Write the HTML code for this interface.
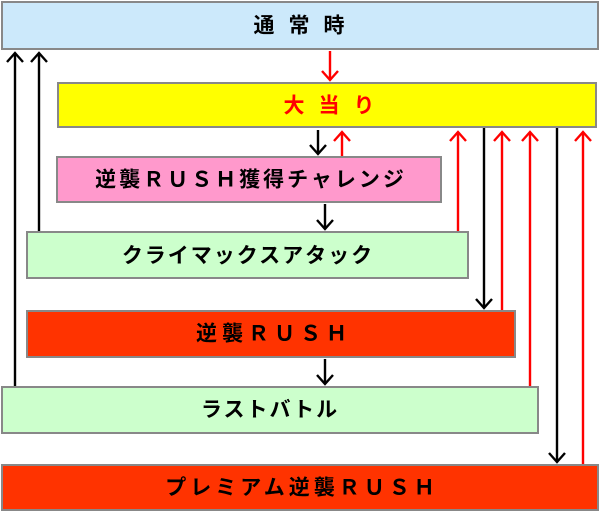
<!DOCTYPE html>
<html><head><meta charset="utf-8"><style>body{margin:0;background:#fff}svg{display:block}
text{font-family:"Liberation Sans","Noto Sans CJK JP",sans-serif;font-weight:bold;font-size:21px;text-anchor:middle;dominant-baseline:central}</style></head>
<body>
<svg width="600" height="514" viewBox="0 0 600 514" xmlns="http://www.w3.org/2000/svg">
<g stroke="#888" stroke-width="2">
<rect x="2" y="2" width="596" height="47" fill="#cce9fb"/>
<rect x="58" y="83" width="538" height="44" fill="#ffff00"/>
<rect x="57" y="157" width="384" height="45" fill="#ff99cc"/>
<rect x="27" y="232" width="441" height="46" fill="#ccffcc"/>
<rect x="27" y="311" width="488" height="46" fill="#ff3300"/>
<rect x="2" y="387" width="536" height="46" fill="#ccffcc"/>
<rect x="2" y="465" width="596" height="45" fill="#ff3300"/>
</g>
<text x="306" y="26" letter-spacing="14">通常時</text>
<text x="336" y="106" fill="#ff0000" letter-spacing="14">大当り</text>
<text x="251" y="180" letter-spacing="3">逆襲ＲＵＳＨ獲得チャレンジ</text>
<text x="248" y="256" letter-spacing="2">クライマックスアタック</text>
<text x="274" y="334" letter-spacing="5">逆襲ＲＵＳＨ</text>
<text x="270" y="410" letter-spacing="2">ラストバトル</text>
<text x="302" y="488" letter-spacing="4">プレミアム逆襲ＲＵＳＨ</text>
<g fill="none" stroke-width="2.4">
<g stroke="#000">
<path d="M318 130V154M310 145l8 9 8-9"/>
<path d="M325 204V229M317 220l8 9 8-9"/>
<path d="M325 359V384M317 375l8 9 8-9"/>
<path d="M15 386V53M7 62l8-9 8 9"/>
<path d="M39 231V53M31 62l8-9 8 9"/>
<path d="M484 128V308M476 299l8 9 8-9"/>
<path d="M557 128V462M549 453l8 9 8-9"/>
</g>
<g stroke="#ff0000">
<path d="M330 51V80M322 71l8 9 8-9"/>
<path d="M342 156V132M334 141l8-9 8 9"/>
<path d="M458 231V132M450 141l8-9 8 9"/>
<path d="M502 310V132M494 141l8-9 8 9"/>
<path d="M530 386V132M522 141l8-9 8 9"/>
<path d="M583 464V132M575 141l8-9 8 9"/>
</g>
</g>
</svg>
</body></html>
